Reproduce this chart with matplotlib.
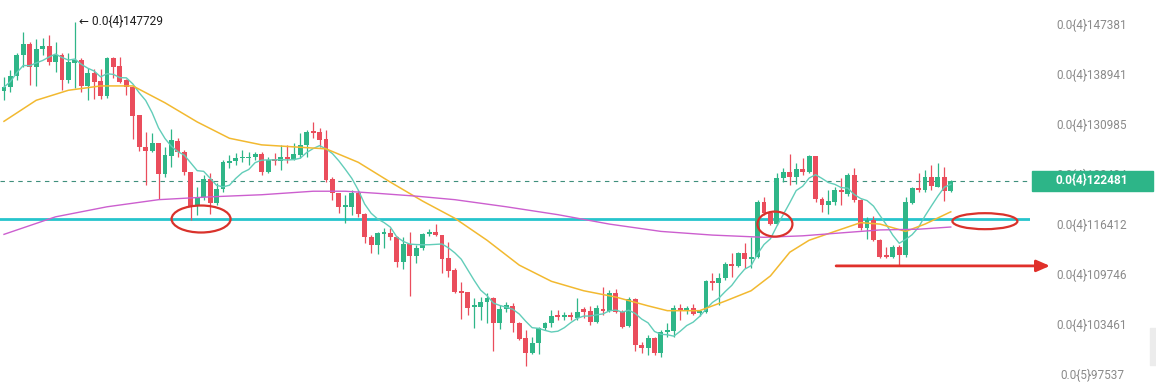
import matplotlib
matplotlib.use("Agg")
import matplotlib.pyplot as plt
import numpy as np
import pandas as pd
from matplotlib.patches import Rectangle, Ellipse

# prices in units of 1e-5 (0.0{4}147381 == 1.47381e-5)
opens = [1.362, 1.368, 1.386, 1.421, 1.439, 1.401, 1.431, 1.436, 1.409, 1.421,
         1.380, 1.408, 1.413, 1.370, 1.391, 1.378, 1.354, 1.416, 1.403, 1.380,
         1.368, 1.324, 1.275, 1.269, 1.281, 1.235, 1.261, 1.284, 1.267, 1.238,
         1.191, 1.202, 1.228, 1.193, 1.213, 1.251, 1.254, 1.258, 1.258, 1.260,
         1.264, 1.238, 1.257, 1.254, 1.260, 1.257, 1.263, 1.278, 1.299, 1.298,
         1.287, 1.228, 1.207, 1.188, 1.188, 1.207, 1.178, 1.146, 1.136, 1.150,
         1.152, 1.146, 1.113, 1.137, 1.121, 1.132, 1.150, 1.153, 1.149, 1.118,
         1.103, 1.074, 1.074, 1.056, 1.056, 1.062, 1.067, 1.036, 1.053, 1.057,
         1.036, 1.018, 1.000, 1.012, 1.030, 1.036, 1.046, 1.043, 1.044, 1.042,
         1.053, 1.051, 1.037, 1.053, 1.051, 1.073, 1.049, 1.032, 1.066, 1.009,
         1.006, 1.018, 1.000, 1.025, 1.026, 1.054, 1.051, 1.054, 1.048, 1.049,
         1.088, 1.086, 1.092, 1.110, 1.108, 1.125, 1.117, 1.120, 1.195, 1.179,
         1.164, 1.229, 1.238, 1.230, 1.242, 1.238, 1.261, 1.199, 1.191, 1.195,
         1.212, 1.206, 1.233, 1.198, 1.159, 1.170, 1.142, 1.122, 1.120, 1.133,
         1.122, 1.193, 1.215, 1.212, 1.230, 1.216, 1.230, 1.210]
highs = [1.385, 1.396, 1.424, 1.460, 1.443, 1.448, 1.450, 1.455, 1.443, 1.424,
         1.424, 1.47729, 1.416, 1.399, 1.398, 1.398, 1.418, 1.418, 1.418, 1.381,
         1.370, 1.324, 1.298, 1.296, 1.281, 1.275, 1.302, 1.288, 1.270, 1.238,
         1.216, 1.233, 1.236, 1.222, 1.255, 1.263, 1.266, 1.270, 1.267, 1.267,
         1.267, 1.260, 1.266, 1.278, 1.278, 1.281, 1.296, 1.301, 1.313, 1.304,
         1.301, 1.230, 1.207, 1.205, 1.212, 1.212, 1.179, 1.149, 1.153, 1.159,
         1.159, 1.148, 1.146, 1.153, 1.136, 1.152, 1.157, 1.164, 1.149, 1.140,
         1.105, 1.087, 1.074, 1.067, 1.068, 1.073, 1.068, 1.058, 1.062, 1.061,
         1.037, 1.027, 1.019, 1.031, 1.037, 1.052, 1.052, 1.049, 1.049, 1.067,
         1.055, 1.057, 1.058, 1.081, 1.077, 1.078, 1.052, 1.068, 1.067, 1.013,
         1.021, 1.019, 1.027, 1.036, 1.058, 1.059, 1.057, 1.059, 1.052, 1.090,
         1.099, 1.099, 1.113, 1.125, 1.126, 1.138, 1.146, 1.198, 1.202, 1.182,
         1.236, 1.244, 1.264, 1.251, 1.258, 1.263, 1.261, 1.202, 1.212, 1.216,
         1.229, 1.236, 1.244, 1.199, 1.174, 1.175, 1.144, 1.133, 1.136, 1.136,
         1.202, 1.216, 1.236, 1.241, 1.248, 1.251, 1.245, 1.226]
lows = [1.347, 1.360, 1.380, 1.401, 1.372, 1.370, 1.421, 1.404, 1.393, 1.363,
        1.375, 1.367, 1.360, 1.347, 1.349, 1.349, 1.351, 1.383, 1.375, 1.355,
        1.287, 1.269, 1.219, 1.267, 1.199, 1.230, 1.245, 1.260, 1.233, 1.170,
        1.177, 1.198, 1.178, 1.191, 1.209, 1.244, 1.248, 1.252, 1.248, 1.255,
        1.233, 1.236, 1.248, 1.241, 1.251, 1.255, 1.258, 1.260, 1.288, 1.275,
        1.223, 1.198, 1.179, 1.165, 1.177, 1.174, 1.138, 1.125, 1.124, 1.132,
        1.142, 1.107, 1.104, 1.069, 1.112, 1.129, 1.148, 1.148, 1.099, 1.094,
        1.073, 1.041, 1.046, 1.030, 1.039, 1.036, 1.002, 1.029, 1.049, 1.025,
        1.015, 0.985, 0.999, 0.999, 1.027, 1.031, 1.039, 1.039, 1.039, 1.039,
        1.042, 1.033, 1.036, 1.046, 1.049, 1.048, 1.030, 1.031, 1.002, 1.000,
        0.998, 0.998, 0.995, 1.019, 1.019, 1.039, 1.047, 1.046, 1.044, 1.048,
        1.077, 1.058, 1.090, 1.094, 1.107, 1.105, 1.105, 1.118, 1.177, 1.163,
        1.163, 1.223, 1.219, 1.220, 1.233, 1.236, 1.195, 1.181, 1.178, 1.191,
        1.191, 1.203, 1.195, 1.156, 1.144, 1.141, 1.118, 1.118, 1.119, 1.108,
        1.120, 1.192, 1.209, 1.209, 1.212, 1.216, 1.196, 1.209]
closes = [1.368, 1.386, 1.421, 1.439, 1.401, 1.431, 1.436, 1.409, 1.421, 1.380,
          1.409, 1.413, 1.370, 1.391, 1.376, 1.354, 1.416, 1.401, 1.376, 1.368,
          1.322, 1.275, 1.269, 1.281, 1.235, 1.263, 1.285, 1.267, 1.238, 1.188,
          1.202, 1.228, 1.193, 1.213, 1.252, 1.254, 1.258, 1.260, 1.260, 1.264,
          1.238, 1.255, 1.254, 1.260, 1.257, 1.264, 1.278, 1.298, 1.296, 1.285,
          1.226, 1.207, 1.188, 1.191, 1.207, 1.178, 1.146, 1.136, 1.152, 1.153,
          1.146, 1.113, 1.137, 1.121, 1.132, 1.150, 1.153, 1.149, 1.117, 1.101,
          1.074, 1.073, 1.054, 1.057, 1.062, 1.067, 1.036, 1.053, 1.058, 1.036,
          1.016, 1.000, 1.012, 1.030, 1.036, 1.044, 1.043, 1.046, 1.043, 1.049,
          1.049, 1.037, 1.054, 1.051, 1.073, 1.049, 1.031, 1.066, 1.009, 1.006,
          1.018, 1.000, 1.025, 1.027, 1.054, 1.051, 1.054, 1.047, 1.049, 1.088,
          1.086, 1.092, 1.110, 1.108, 1.125, 1.117, 1.120, 1.195, 1.179, 1.164,
          1.229, 1.238, 1.230, 1.242, 1.238, 1.261, 1.199, 1.191, 1.196, 1.212,
          1.209, 1.233, 1.198, 1.159, 1.170, 1.142, 1.120, 1.120, 1.133, 1.122,
          1.195, 1.215, 1.212, 1.230, 1.218, 1.230, 1.210, 1.22481]

# medium moving average (yellow)
ma_mid_idx = [0, 5, 10, 15, 20, 25, 30, 35, 40, 45, 50, 55, 60, 65, 70, 75, 80,
              85, 90, 95, 100, 103, 108, 112, 116, 119, 122, 125, 129, 133, 136,
              140, 143, 147]
ma_mid_val = [1.314, 1.347, 1.363, 1.370, 1.370, 1.343, 1.313, 1.288, 1.278,
              1.275, 1.272, 1.252, 1.223, 1.196, 1.172, 1.142, 1.109, 1.088,
              1.076, 1.068, 1.057, 1.051, 1.051, 1.063, 1.076, 1.095, 1.126,
              1.142, 1.154, 1.166, 1.164, 1.154, 1.164, 1.181]
# slow moving average (purple)
ma_slow_idx = [0, 8, 16, 24, 32, 40, 48, 53, 58, 64, 70, 78, 86, 94, 102, 110,
               118, 124, 130, 136, 142, 147]
ma_slow_val = [1.150, 1.174, 1.188, 1.198, 1.202, 1.205, 1.210, 1.210, 1.207,
               1.203, 1.198, 1.188, 1.177, 1.164, 1.154, 1.149, 1.146, 1.148,
               1.152, 1.156, 1.157, 1.160]

tick_vals = [1.47381, 1.38941, 1.30985, 1.23484, 1.16412, 1.09746, 1.03461, 0.97537]
level = 1.171
support = 1.108
high_mark = (11, 1.47729)
# circles: (candle index, price, width px, height px)
circles = [(30.6, 1.171, 59, 27), (119.7, 1.164, 35, 25), (152.3, 1.168, 65, 16)]

GREEN = "#2fb688"
RED = "#ea4d5c"


def fmt(v):
    n = int(round(v * 1e5))
    return f"0.0{{4}}{n}" if v >= 1 else f"0.0{{5}}{n}"


plt.rcParams["font.family"] = ["Roboto", "DejaVu Sans"]

W, H = 1156, 392
fig = plt.figure(figsize=(W / 100, H / 100), dpi=100)
fig.set(facecolor="white")
ax = fig.add_axes([0, 0, 1030 / W, 1])
ax.set_yscale("log")
ax.yaxis.set_minor_locator(plt.NullLocator())

o = np.array(opens)
h = np.array(highs)
l = np.array(lows)
c = np.array(closes)
x = np.arange(len(c))
cols = np.where(c >= o, GREEN, RED)

ax.vlines(x, l, h, colors=cols, lw=0.9, zorder=3)
ax.bar(x, np.maximum(np.abs(c - o), 0.0022), bottom=np.minimum(o, c),
       width=0.76, color=cols, linewidth=0, zorder=4)

fast = pd.Series(c).rolling(7, min_periods=1).mean()
ax.plot(x, fast, color="#62cdb9", lw=1.0, zorder=5)
ax.plot(ma_mid_idx, ma_mid_val, color="#f2b930", lw=1.1, zorder=5)
ax.plot(ma_slow_idx, ma_slow_val, color="#cc5fcf", lw=1.0, zorder=5)

ax.axhline(level, color="#26c4cc", lw=2.0, zorder=2)
ax.axhline(c[-1], color="#3f8f7c", lw=0.8, ls=(0, (4, 4)), zorder=2)

ax.set_xlim(-0.62, 159.3)
ax.set_ylim(0.95488, 1.51612)

ax.yaxis.tick_right()
ax.set_yticks(tick_vals, [fmt(v) for v in tick_vals])
ax.yaxis.set_minor_locator(plt.NullLocator())
ax.tick_params(axis="y", length=0, pad=44.6, labelsize=8.5, labelcolor="#8a8a8a")
for t in ax.get_yticklabels():
    t.set_ha("center")
ax.set_xticks([])
for s in ax.spines.values():
    s.set_visible(False)

ax.annotate("← " + fmt(high_mark[1]), xy=high_mark, xytext=(3, 0),
            textcoords="offset points", va="center", ha="left",
            fontsize=8.6, color="#1e1e1e")

ax.annotate("", xy=(162.4, support), xytext=(129.2, support),
            arrowprops=dict(arrowstyle="-|>,head_length=0.8,head_width=0.35",
                            color="#e0302a", lw=2, shrinkA=0, shrinkB=0),
            annotation_clip=False)

to_fig = fig.transFigure.inverted()
for xi, pv, ew, eh in circles:
    cx, cy = to_fig.transform(ax.transData.transform((xi, pv)))
    fig.add_artist(Ellipse((cx, cy), ew / W, eh / H, transform=fig.transFigure,
                           fill=False, ec="#d9322b", lw=1.6, zorder=6))

# current price tag
_, yf = to_fig.transform(ax.transData.transform((0, c[-1])))
fig.add_artist(Rectangle((1032 / W, yf - 10 / H), 121 / W, 20 / H,
                         transform=fig.transFigure, color="#2db588", zorder=1))
fig.text(1092 / W, yf, fmt(c[-1]), ha="center", va="center", color="white",
         fontsize=8.6, fontweight="bold", zorder=3)

fig.add_artist(Rectangle((1150 / W, 27 / H), 6 / W, 37 / H,
                         transform=fig.transFigure, color="#ececec", zorder=1))

fig.savefig("out.png", dpi=100, facecolor="white")
